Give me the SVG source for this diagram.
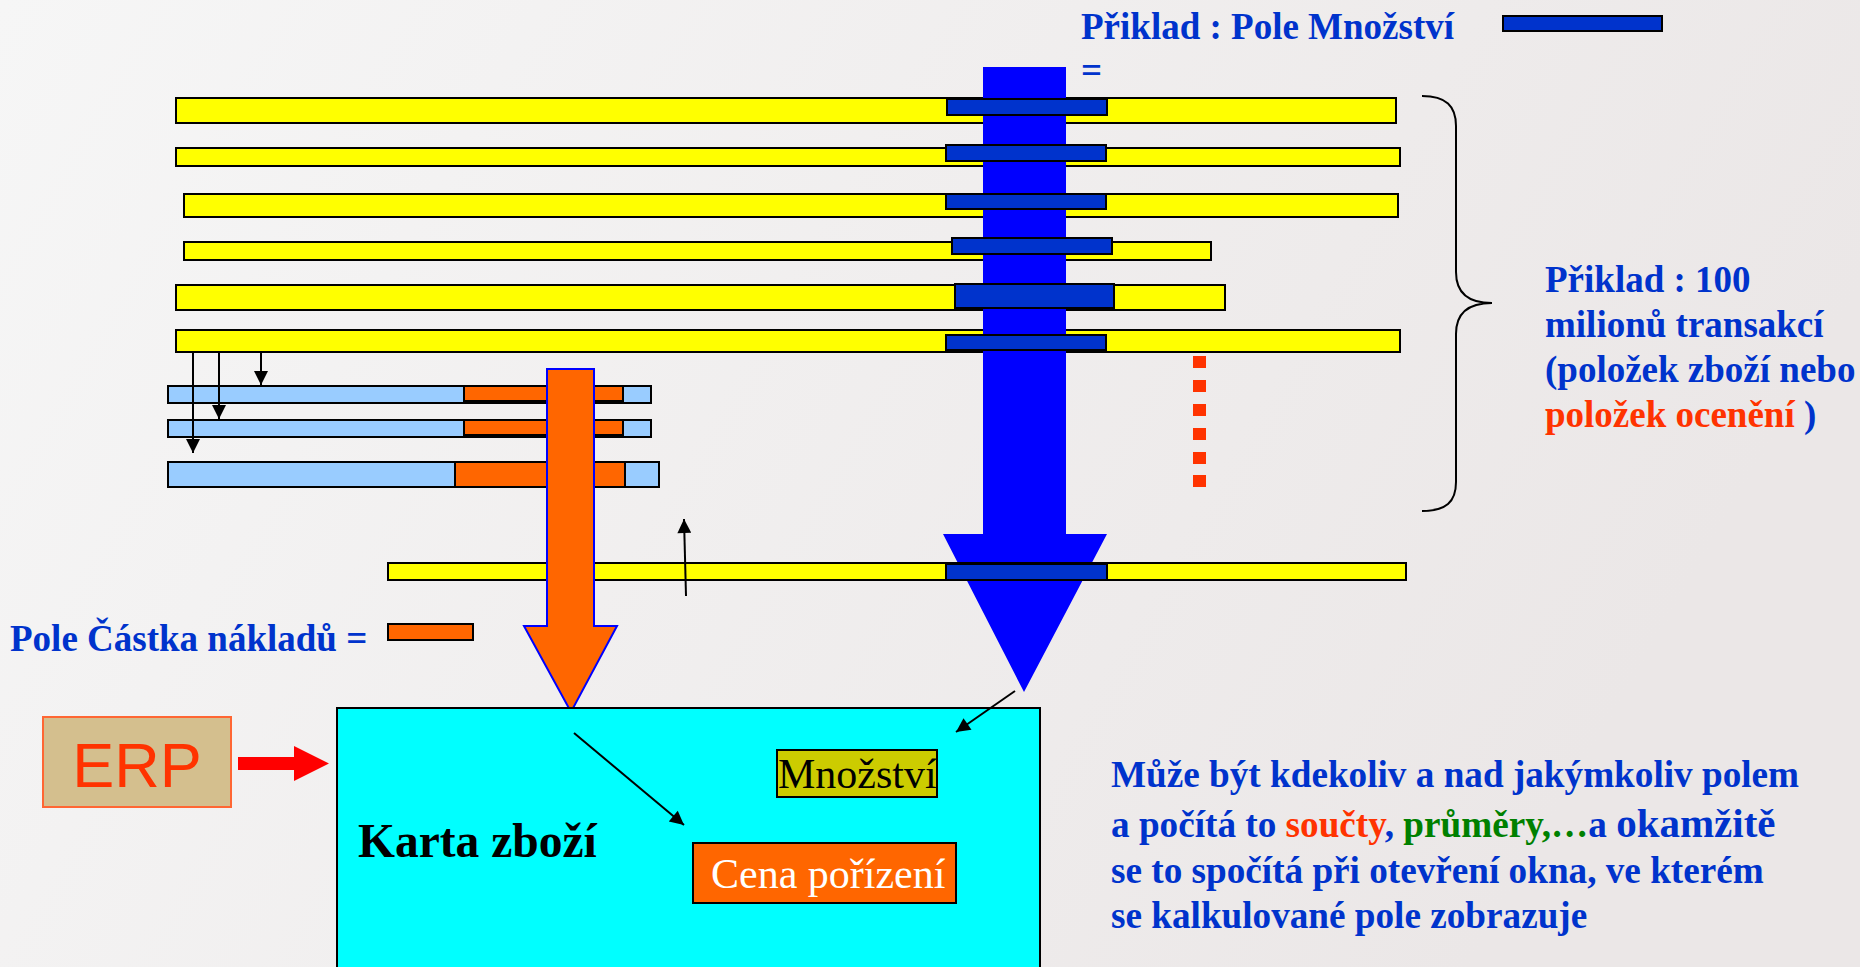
<svg xmlns="http://www.w3.org/2000/svg" width="1860" height="967" viewBox="0 0 1860 967">
<defs>
<linearGradient id="bg" x1="0" y1="0" x2="1" y2="0.3">
<stop offset="0" stop-color="#F6F6F6"/>
<stop offset="1" stop-color="#EBE7E7"/>
</linearGradient>
<marker id="ah" viewBox="0 0 10 10" refX="10" refY="5" markerWidth="17" markerHeight="14" markerUnits="userSpaceOnUse" orient="auto">
<path d="M0,0 L10,5 L0,10 z" fill="#000"/>
</marker>
</defs>
<style>
.yb{fill:#FFFF00;stroke:#000;stroke-width:2}
.bb{fill:#0033CC;stroke:#000;stroke-width:2}
.lb{fill:#99CCFF;stroke:#000;stroke-width:2}
.ob{fill:#FF6600;stroke:#000;stroke-width:2}
.bt{font-family:"Liberation Serif","Times New Roman",serif;font-weight:bold;fill:#0033CC}
.red{fill:#FF3300}
.grn{fill:#008000}
.conn line{stroke:#000;stroke-width:2;marker-end:url(#ah)}
</style>
<rect x="0" y="0" width="1860" height="967" fill="url(#bg)"/>

<g id="title">
<text class="bt" x="1081" y="39" font-size="37">Přiklad : Pole Množství</text>
<text class="bt" x="1081" y="83" font-size="37">=</text>
<rect class="bb" x="1503" y="16" width="159" height="15"/>
</g>

<g id="yellow-bars">
<rect class="yb" x="176" y="98" width="1220" height="25"/>
<rect class="yb" x="176" y="148" width="1224" height="18"/>
<rect class="yb" x="184" y="194" width="1214" height="23"/>
<rect class="yb" x="184" y="242" width="1027" height="18"/>
<rect class="yb" x="176" y="285" width="1049" height="25"/>
<rect class="yb" x="176" y="330" width="1224" height="22"/>
</g>

<g id="blue-arrow">
<polygon points="983,67 1066,67 1066,534 1107,534 1024,692 943,534 983,534" fill="#0000FF"/>
</g>

<g id="blue-fields">
<rect class="bb" x="947" y="99" width="160" height="16"/>
<rect class="bb" x="946" y="145" width="160" height="16"/>
<rect class="bb" x="946" y="194" width="160" height="15"/>
<rect class="bb" x="952" y="238" width="160" height="16"/>
<rect class="bb" x="955" y="284" width="159" height="24"/>
<rect class="bb" x="946" y="335" width="160" height="15"/>
</g>

<g id="bar-last">
<rect class="yb" x="388" y="563" width="1018" height="17"/>
<rect class="bb" x="946" y="564" width="161" height="16"/>
</g>

<g id="dots" fill="#FF3300">
<rect x="1193" y="356" width="13" height="12"/>
<rect x="1193" y="380" width="13" height="12"/>
<rect x="1193" y="404" width="13" height="12"/>
<rect x="1193" y="428" width="13" height="12"/>
<rect x="1193" y="452" width="13" height="12"/>
<rect x="1193" y="475" width="13" height="12"/>
</g>

<g id="cost-bars">
<rect class="lb" x="168" y="386" width="483" height="17"/>
<rect class="ob" x="464" y="386" width="159" height="15"/>
<rect class="lb" x="168" y="420" width="483" height="17"/>
<rect class="ob" x="464" y="420" width="159" height="15"/>
<rect class="lb" x="168" y="462" width="491" height="25"/>
<rect class="ob" x="455" y="462" width="170" height="25"/>
</g>

<g id="orange-arrow">
<polygon points="547,369 594,369 594,626 617,626 571,712 524,626 547,626" fill="#FF6600" stroke="#0000FF" stroke-width="2"/>
</g>

<g id="brace">
<path d="M1422,96 C1446,96 1456,106 1456,126 L1456,272 C1456,292 1467,303 1492,303 C1467,303 1456,314 1456,334 L1456,482 C1456,502 1446,511 1422,511" fill="none" stroke="#000" stroke-width="2"/>
</g>

<g id="note-transactions">
<text class="bt" font-size="37"><tspan x="1545" y="292">Přiklad : 100</tspan><tspan x="1545" y="337">milionů transakcí</tspan><tspan x="1545" y="382">(položek zboží nebo</tspan><tspan x="1545" y="427"><tspan class="red">položek ocenění</tspan> )</tspan></text>
</g>

<g id="cost-legend">
<text class="bt" x="10" y="651" font-size="37">Pole Částka nákladů =</text>
<rect class="ob" x="388" y="624" width="85" height="16"/>
</g>

<g id="erp">
<rect x="43" y="717" width="188" height="90" fill="#D4BF8E" stroke="#FF6633" stroke-width="2"/>
<text x="137" y="787" font-family="'Liberation Sans',Arial,sans-serif" font-size="63" fill="#FF3300" text-anchor="middle">ERP</text>
<polygon points="238,757 294,757 294,746 329,763.5 294,781 294,770 238,770" fill="#FF0000"/>
</g>

<g id="karta">
<rect x="337" y="708" width="703" height="280" fill="#00FFFF" stroke="#000" stroke-width="2"/>
<text x="358" y="857" font-family="'Liberation Serif','Times New Roman',serif" font-weight="bold" font-size="47.5" fill="#000">Karta zboží</text>
</g>

<g id="mnozstvi">
<rect x="777" y="750" width="160" height="47" fill="#CCCC00" stroke="#000" stroke-width="2"/>
<text x="778" y="788" font-family="'Liberation Serif','Times New Roman',serif" font-size="42" fill="#000">Množství</text>
</g>

<g id="cena">
<rect x="693" y="843" width="263" height="60" fill="#FF6600" stroke="#000" stroke-width="2"/>
<text x="711" y="888" font-family="'Liberation Serif','Times New Roman',serif" font-size="42" fill="#FFFFFF">Cena pořízení</text>
</g>

<g id="connectors" class="conn">
<line x1="193" y1="352" x2="193" y2="453"/>
<line x1="219" y1="352" x2="219" y2="419"/>
<line x1="261" y1="352" x2="261" y2="385"/>
<line x1="686" y1="596" x2="684" y2="519"/>
<line x1="574" y1="733" x2="684" y2="825"/>
<line x1="1015" y1="691" x2="956" y2="732"/>
</g>

<g id="note-bottom">
<text class="bt" font-size="37.2"><tspan x="1111" y="787">Může být kdekoliv a nad jakýmkoliv polem</tspan><tspan x="1111" y="837">a počítá to <tspan class="red">součty</tspan>, <tspan class="grn">průměry,…</tspan>a <tspan font-size="41">okamžitě</tspan></tspan><tspan x="1111" y="883">se to spočítá při otevření okna, ve kterém</tspan><tspan x="1111" y="928">se kalkulované pole zobrazuje</tspan></text>
</g>
</svg>
